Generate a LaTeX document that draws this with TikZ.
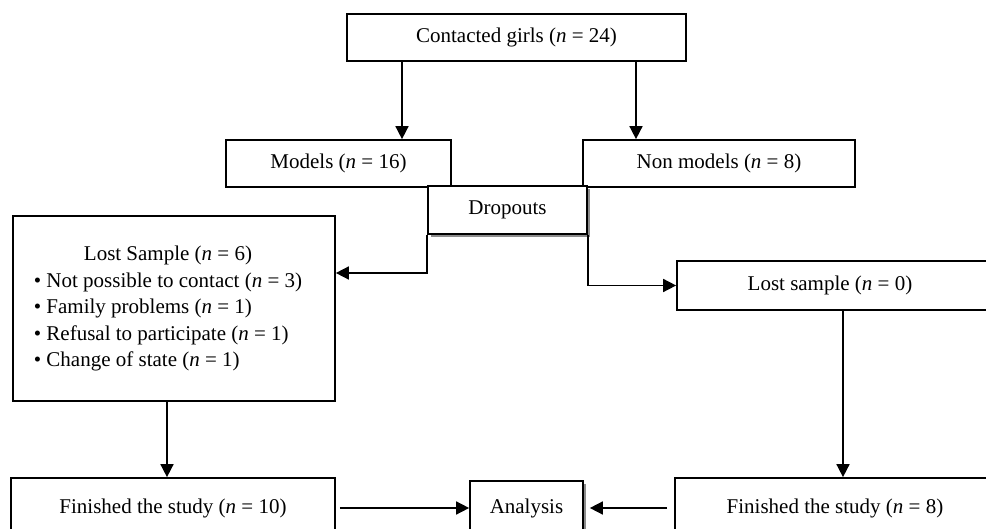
\documentclass[tikz,border=0pt]{standalone}
\usepackage{fontspec}
\setmainfont{Liberation Serif}
\usetikzlibrary{arrows.meta,shadows,calc}
\begin{document}
\begin{tikzpicture}[x=1pt,y=-1pt,
  box/.style={draw, line width=1.7pt, fill=white, inner sep=0pt,
    font=\fontsize{21}{26.5}\selectfont},
  shadowed/.style={drop shadow={shadow xshift=3pt, shadow yshift=-3pt, fill=black!45, opacity=1}},
  arr/.style={line width=1.6pt, -{Triangle[length=13pt,width=13pt]}}]
\useasboundingbox (0,0) rectangle (986,529);
\clip (0,0) rectangle (986,529);
\node[box, minimum width=339pt, minimum height=47pt] (top) at (516.5,37.5) {Contacted girls (\textit{n} = 24)};
\node[box, minimum width=225pt, minimum height=47pt] (models) at (338.5,163.5) {Models (\textit{n} = 16)};
\node[box, minimum width=272pt, minimum height=47pt] (nonmodels) at (719,163.5) {Non models (\textit{n} = 8)};
\node[box, shadowed, minimum width=159pt, minimum height=48pt] (drop) at (507.5,210) {Dropouts};
\node[box, minimum width=322pt, minimum height=185pt] (lost6) at (174,308.5) {\hspace*{-12pt}\begin{tabular}{@{}l@{}}
\multicolumn{1}{@{}c@{}}{Lost Sample (\textit{n} = 6)}\\
• Not possible to contact (\textit{n} = 3)\\
• Family problems (\textit{n} = 1)\\
• Refusal to participate (\textit{n} = 1)\\
• Change of state (\textit{n} = 1)
\end{tabular}};
\node[box, minimum width=315pt, minimum height=49pt] (lost0) at (834.5,285.5) {\hspace*{-9pt}Lost sample (\textit{n} = 0)};
\node[box, minimum width=324pt, minimum height=60pt] (fin1) at (173,508) {Finished the study (\textit{n} = 10)};
\node[box, shadowed, minimum width=113pt, minimum height=54pt] (analysis) at (526.5,508) {Analysis};
\node[box, minimum width=320pt, minimum height=60pt] (fin2) at (835,508) {Finished the study (\textit{n} = 8)};
\coordinate (xa) at (402,0);
\coordinate (xb) at (636,0);
\coordinate (ya) at (0,273);
\coordinate (xc) at (167,0);
\coordinate (xd) at (843,0);
\draw[arr] (xa |- top.south) -- (xa |- models.north);
\draw[arr] (xb |- top.south) -- (xb |- nonmodels.north);
\draw[arr] (drop.south west) -- (drop.south west |- ya) -- (lost6.east |- ya);
\draw[arr] (drop.south east) |- (lost0.west);
\draw[arr] (xc |- lost6.south) -- (xc |- fin1.north);
\draw[arr] (xd |- lost0.south) -- (xd |- fin2.north);
\draw[arr, shorten <=4pt] (fin1.east) -- (analysis.west);
\draw[arr, shorten <=7pt, shorten >=6pt] (fin2.west) -- (analysis.east);
\end{tikzpicture}
\end{document}
